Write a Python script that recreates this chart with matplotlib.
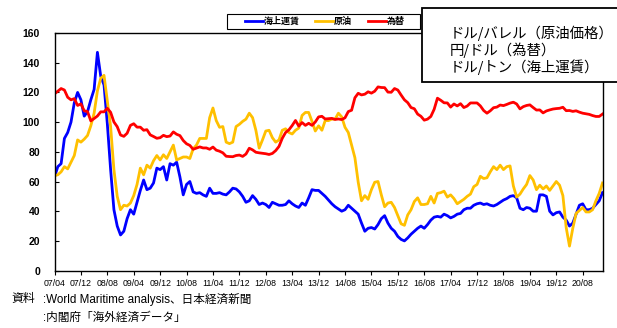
import matplotlib.pyplot as plt
from matplotlib.patches import Rectangle
import numpy as np

plt.rcParams['font.family'] = ['Liberation Sans', 'Noto Sans CJK JP']

# x軸ラベル（8か月ごと）
tick_labels = ['07/04', '07/12', '08/08', '09/04', '09/12', '10/08', '11/04',
               '11/12', '12/08', '13/04', '13/12', '14/08', '15/04', '15/12',
               '16/08', '17/04', '17/12', '18/08', '19/04', '19/12', '20/08']

# 2007/04 ～ 2021/02 の月次データ
freight = [63, 70, 72, 89, 93, 100, 113, 120, 115, 104,
           107, 115, 122, 147, 131, 125, 99, 68, 41, 30,
           24, 26.5, 35, 41, 38, 46, 54, 61, 54.5, 55.5,
           59, 69, 68, 70, 61, 72, 71, 73, 63, 51,
           58, 60, 53, 52, 52.5, 51, 50, 55.5, 52, 52,
           52.5, 51.5, 51, 53, 55.5, 55, 53, 50, 46, 47,
           50.5, 48, 44.5, 45.5, 44.5, 42.5, 46, 45, 44, 44,
           44.5, 47, 45, 43.5, 42.5, 45.5, 44, 49, 54.5, 54,
           54, 52, 50, 47.5, 45, 43, 41.5, 40, 41, 44,
           42, 40, 38, 32, 26.5, 28.5, 29, 28, 31, 35,
           37, 32, 28.5, 26.5, 23, 21, 20, 22, 24.5, 26.5,
           28.5, 30, 28.5, 31, 34, 36, 36.5, 36, 38, 37,
           35.5, 36.5, 38, 38.5, 41, 42, 42, 44, 45, 45.5,
           44.5, 45, 44, 43.5, 44.5, 46, 47.5, 48.5, 50, 50.5,
           49, 42, 41, 42.5, 42, 40, 40, 51, 51, 50,
           40, 37.5, 39, 39.5, 36, 34, 30, 32, 38, 44,
           45, 41, 41, 42, 44.5, 47, 52.5]

crude = [64, 64.5, 66.5, 70, 68.5, 73, 77.5, 88, 86.5, 88.5,
         91, 97.5, 106, 121, 129.5, 131.5, 114, 97, 68, 50,
         41, 44, 43.5, 45.5, 50.5, 58, 69, 64.5, 71, 69,
         74, 77.5, 74.5, 78, 75.5, 80, 84.5, 74.5, 75.5, 76.5,
         76.5, 75.5, 82, 84.5, 89, 89, 89, 103, 109.5, 101,
         96.5, 97, 86.5, 85.5, 86.5, 97, 98.5, 100.5, 102, 106,
         103, 94.5, 82.5, 88, 94, 94.5, 89.5, 86.5, 88, 94.5,
         95.5, 93, 92, 94.5, 96, 104.5, 106.5, 106.5, 100.5, 94,
         97.5, 94.5, 101, 101, 102, 102, 106, 103.5, 96.5, 93,
         84.5, 76, 59.5, 47, 50.5, 48, 54.5, 59.5, 60, 51,
         43, 45.5, 46, 42.5, 37, 31.5, 30.5, 37.5, 41, 46.5,
         49, 44.5, 44.5, 45, 50, 45.5, 52, 52.5, 53.5, 49.5,
         51, 48.5, 45, 46.5, 48, 50, 51.5, 56.5, 58, 63.5,
         62, 62.5, 66.5, 70, 68, 71, 68, 70, 70.5, 57,
         49.5, 51.5, 55, 58, 64, 61, 54.5, 57.5, 55, 57,
         54, 57, 60, 57.5, 50.5, 29, 16.5, 28.5, 38.5, 40.5,
         42.5, 39.5, 39.5, 41, 47, 52, 59]

yen = [119.0, 120.8, 122.6, 121.6, 116.7, 115.0, 115.8, 111.2, 112.3, 107.6,
       107.1, 100.8, 102.4, 104.1, 106.9, 106.9, 109.3, 106.6, 100.1, 96.9,
       91.3, 90.4, 92.5, 97.8, 98.9, 96.6, 96.6, 94.5, 94.9, 91.4,
       90.3, 89.1, 89.5, 91.1, 90.2, 90.6, 93.4, 91.8, 90.9, 87.6,
       85.4, 84.3, 81.7, 82.5, 83.3, 82.6, 82.6, 81.7, 83.2, 81.1,
       80.4, 79.3, 77.0, 76.8, 76.7, 77.5, 77.8, 76.9, 78.5, 82.4,
       81.3, 79.7, 79.3, 79.0, 78.7, 78.2, 78.9, 80.8, 83.6, 89.1,
       93.0, 94.8, 97.7, 101.1, 97.3, 99.7, 97.8, 99.2, 97.8, 100.1,
       103.5, 103.9, 102.1, 102.3, 102.5, 101.8, 102.1, 101.7, 102.9, 107.1,
       108.0, 116.4, 119.4, 118.3, 118.8, 120.4, 119.5, 120.8, 123.7, 123.3,
       123.2, 120.2, 120.1, 122.6, 121.6, 118.2, 115.0, 113.1, 109.8, 109.0,
       105.4, 103.9, 101.3, 102.0, 103.8, 108.6, 116.1, 114.7, 113.0, 112.9,
       110.1, 112.2, 110.9, 112.4, 109.8, 110.8, 112.9, 112.9, 112.9, 110.9,
       107.8, 106.0, 107.6, 109.7, 110.1, 111.5, 111.1, 111.9, 112.8, 113.4,
       112.2, 108.9, 110.4, 111.2, 111.6, 109.8, 108.1, 108.2, 106.2, 107.5,
       108.2, 108.8, 109.1, 109.3, 110.0, 107.7, 107.8, 107.2, 107.6, 106.7,
       106.0, 105.6, 105.2, 104.4, 103.8, 103.8, 105.4]

W, H = 617, 328
x = np.arange(len(freight))

fig = plt.figure(figsize=(W / 100, H / 100), dpi=100)
ax = fig.add_axes([54.5 / W, 1 - 270.6 / H, 548 / W, 237.6 / H])

ax.plot(x, freight, color='#0000FF', lw=2.0, label='海上運賃')
ax.plot(x, crude, color='#FFC000', lw=2.0, label='原油')
ax.plot(x, yen, color='#FF0000', lw=2.0, label='為替')

ax.set_xlim(0, len(x) - 1)
ax.set_ylim(0, 160)
ax.set_yticks(range(0, 161, 20))
ax.set_xticks(range(0, 161, 8))
ax.set_xticklabels(tick_labels, fontsize=6.3)
for t in ax.get_yticklabels():
    t.set_fontsize(7.5)
    t.set_fontweight('bold')
ax.tick_params(axis='y', direction='in', length=3, pad=10.5)
ax.tick_params(axis='x', direction='out', length=3, pad=3)
for s in ax.spines.values():
    s.set_linewidth(1.0)
    s.set_color('black')

# 凡例
leg = ax.legend(loc='center left', bbox_to_anchor=(245 / W, 1 - 21.7 / H),
                bbox_transform=fig.transFigure, ncol=3, frameon=False,
                borderpad=0, borderaxespad=0, handlelength=2.0,
                handletextpad=0.1, columnspacing=1.7,
                prop=dict(family='Noto Sans CJK JP', weight='bold', size=6.5))
fig.add_artist(Rectangle((226.7 / W, 1 - 29.3 / H), 193.3 / W, 15.3 / H,
                         transform=fig.transFigure, facecolor='none',
                         edgecolor='black', lw=0.8))

# 単位の説明
fig.add_artist(Rectangle((421.7 / W, 1 - 81.7 / H), 230 / W, 73.4 / H,
                         transform=fig.transFigure, facecolor='white',
                         edgecolor='black', lw=1.3, zorder=5, clip_on=False))
units = ['ドル/バレル（原油価格）', '円/ドル（為替）', 'ドル/トン（海上運賃）']
for k, s in enumerate(units):
    fig.text(450 / W, 1 - (33.3 + 17 * k) / H, s, fontsize=10.4,
             family='Noto Sans CJK JP', va='center', ha='left', zorder=6)

# 出所
fig.text(11.7 / W, 1 - 299 / H, '資料', fontsize=8.6, va='center')
fig.text(43.3 / W, 1 - 299 / H, ':World Maritime analysis、日本経済新聞',
         fontsize=8.4, va='center')
fig.text(43.3 / W, 1 - 318 / H, ':内閣府「海外経済データ」',
         fontsize=8.4, va='center')

fig.savefig('out.png', dpi=100)
